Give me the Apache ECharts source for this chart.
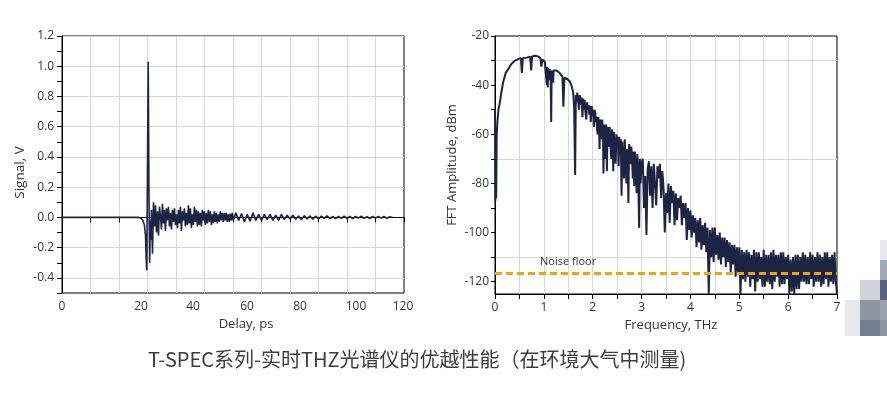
<!DOCTYPE html>
<html>
<head>
<meta charset="utf-8">
<title>T-SPEC THz</title>
<script src="https://cdn.jsdelivr.net/npm/echarts@6/dist/echarts.min.js"></script>
<style>
    html, body { margin: 0; padding: 0; background: #fff; }
    #main { width: 887px; height: 396px; }
</style>
</head>
<body>
<div id="main"></div>
<script>
// ---- time domain: Delay, ps / Signal, V ----
var pulseDelay  = [0, 27.0, 27.8, 28.4, 28.9, 29.3, 29.55, 29.75, 29.95, 30.25, 30.5, 30.75, 31.0, 31.2, 31.4, 31.75, 32.1];
var pulseSignal = [0, 0, -0.005, -0.02, -0.05, -0.12, -0.28, -0.35, 0.2, 1.03, 0.2, -0.30, -0.02, -0.15, 0.05, -0.24, 0.10];

// ringing after the pulse, sampled every 0.35 ps from 32.45 ps
var ringStart = 32.45, ringStep = 0.35;
var ringSignal = [
    -0.06, 0.08, -0.10, 0.04, -0.12, 0.07, 0.01, -0.08, 0.09, -0.04,
    0.05, -0.09, 0.06, -0.02, 0.07, -0.06, 0.03, -0.08, 0.05, -0.03,
    0.06, -0.05, 0.02, -0.07, 0.05, -0.04, 0.07, -0.09, 0.04, -0.02,
    0.06, -0.06, 0.03, -0.05, 0.08, -0.04, 0.06, -0.07, 0.02, -0.05,
    0.07, -0.03, 0.05, -0.06, 0.04, -0.05, 0.03, -0.06, 0.05, -0.02,
    0.04, -0.05, 0.03, -0.04, 0.05, -0.03, 0.04, -0.05, 0.02, -0.04,
    0.04, -0.03, 0.03, -0.04, 0.02, -0.03, 0.04, -0.02, 0.03, -0.03,
    0.03, -0.02, 0.03, -0.03, 0.02, -0.03, 0.025, -0.02, 0.03, -0.02
];
// tail, sampled every 1 ps from 61 ps
var tailStart = 61, tailStep = 1;
var tailSignal = [
    0.03, -0.02, 0.025, -0.03, 0.02, -0.025, 0.03, -0.02, 0.02, -0.02,
    0.02, -0.015, 0.02, -0.02, 0.015, -0.02, 0.02, -0.015, 0.015, -0.01,
    0.015, -0.012, 0.01, -0.015, 0.012, -0.01, 0.01, -0.012, 0.008, -0.01,
    0.008, -0.006, 0.01, -0.008, 0.006, -0.008, 0.007, -0.006, 0.008, -0.006,
    0.006, -0.008, 0.007, -0.005, 0.008, -0.006, 0.005, -0.007, 0.006, -0.005,
    0.006, -0.005, 0.007, -0.006, 0.004, 0.0
];

// ---- spectrum: Frequency, THz / FFT Amplitude, dBm ----
var specFreq = [
    0.000, 0.008, 0.016, 0.024, 0.035, 0.05, 0.07, 0.10, 0.13, 0.17, 0.22, 0.27, 0.33, 0.41, 0.48,
    0.53, 0.55, 0.57, 0.65, 0.72, 0.74, 0.76, 0.82, 0.88, 0.93, 0.95, 0.97, 1.02, 1.05, 1.06,
    1.07, 1.08, 1.09, 1.10, 1.12, 1.14, 1.15, 1.16, 1.19, 1.20, 1.26, 1.32, 1.38, 1.40, 1.42,
    1.48, 1.53, 1.57, 1.60, 1.62, 1.64, 1.655, 1.67, 1.685, 1.70, 1.72, 1.735, 1.75, 1.77, 1.79,
    1.805, 1.82, 1.835, 1.85, 1.87, 1.885, 1.90, 1.915, 1.93, 1.945, 1.96, 1.98,
    2.00, 2.015, 2.025, 2.035, 2.05, 2.065, 2.075, 2.09, 2.10, 2.115, 2.13, 2.14, 2.155, 2.17, 2.18,
    2.195, 2.21, 2.22, 2.235, 2.25, 2.26, 2.275, 2.29, 2.305, 2.32, 2.33, 2.345, 2.36, 2.38, 2.395,
    2.41, 2.42, 2.435, 2.45, 2.47, 2.485, 2.50, 2.515, 2.53, 2.545, 2.56, 2.575, 2.59, 2.605, 2.62,
    2.64, 2.655, 2.67, 2.69, 2.70, 2.715, 2.73, 2.745, 2.76, 2.78, 2.79, 2.805, 2.82, 2.835, 2.85,
    2.865, 2.88, 2.90, 2.915, 2.93, 2.95, 2.965, 2.98
];
var specAmp = [
    -50, -87, -58, -86, -60, -55, -50, -47, -43, -38.5, -35, -33.5, -31.5, -30, -29.3,
    -29, -35, -29, -28.8, -28.4, -34, -28.3, -28, -28.3, -29, -32.5, -29.6, -30.5, -31, -40,
    -32.5, -41, -33, -38, -33.5, -38, -55, -34, -39, -34, -34, -35, -36.5, -48.8, -37,
    -37.5, -38.5, -40.5, -43, -49, -76.6, -44, -47, -43, -46, -50, -44, -48, -45, -53,
    -45.5, -50, -46, -51, -54, -47, -50, -48, -52, -48.5, -55, -48.5,
    -48, -53, -57, -50, -51, -55, -52.8, -58, -60, -53, -58, -66, -54, -58, -62,
    -54, -60, -76, -56, -63, -70, -56, -75, -57, -62, -65, -57, -63, -70, -58,
    -64, -75, -59, -66, -72, -60, -65, -61, -73, -61, -68, -62, -85, -63, -70,
    -78, -62, -69, -80, -66, -70, -88, -64, -70, -72, -65, -70, -78, -67, -81,
    -67, -74, -84, -68, -75, -98, -70, -80
];
// noisy high-frequency part, every 0.025 THz from 3.0 THz
var noiseStart = 3.0, noiseStep = 0.025;
var noiseAmp = [
    -72, -70, -90, -77,    -101, -74, -71, -85,    -73, -90, -72, -80,    -89, -73, -78, -72,
    -86, -75, -82, -100,   -84, -92, -80, -96,     -81, -88, -83, -97,    -84, -95, -86, -90,
    -85, -97, -88, -94,    -88, -103, -90, -99,    -91, -102, -93, -100,  -94, -106, -95, -104,
    -94, -107, -97, -105,  -96, -108, -98, -125,   -99, -110, -98, -112,  -98, -109, -101, -111,
    -100, -113, -102, -110, -102, -114, -103, -112, -104, -116, -105, -113, -105, -118, -106, -117,
    -106, -125, -107, -119, -108, -120, -107, -118, -108, -122, -109, -119, -107, -124, -108, -120,
    -108, -119, -110, -122, -107, -122, -109, -120, -109, -121, -108, -123, -107, -120, -109, -118,
    -109, -122, -108, -121, -108, -121, -110, -119, -109, -125, -111, -124, -110, -125, -109, -123,
    -109, -123, -110, -120, -108, -120, -109, -121, -110, -121, -108, -119, -109, -122, -110, -120,
    -108, -120, -109, -122, -110, -121, -108, -119, -108, -122, -110, -120, -109, -121, -108, -120,
    -125
];
var noiseFloor = -116.6;

var delayTicks = [0, 10, 20, 30, 40, 50, 60, 70, 80, 90, 100, 110, 120];
var freqTicks = [0, 0.5, 1, 1.5, 2, 2.5, 3, 3.5, 4, 4.5, 5, 5.5, 6, 6.5, 7];
var dbmTicks = [-120, -110, -100, -90, -80, -70, -60, -50, -40, -30, -20];

var signalData = [];
for (var i = 0; i < pulseDelay.length; i++) signalData.push([pulseDelay[i], pulseSignal[i]]);
for (var i = 0; i < ringSignal.length; i++) signalData.push([+(ringStart + i * ringStep).toFixed(2), ringSignal[i]]);
for (var i = 0; i < tailSignal.length; i++) signalData.push([tailStart + i * tailStep, tailSignal[i]]);

var spectrumData = [];
for (var i = 0; i < specFreq.length; i++) spectrumData.push([specFreq[i], specAmp[i]]);
for (var i = 0; i < noiseAmp.length; i++) spectrumData.push([+(noiseStart + i * noiseStep).toFixed(3), noiseAmp[i]]);

var FONT = 'Open Sans';
var LINE = '#1c2444';
var GRID = '#d6d6d6';
var TXT = '#333';

// the delay labels of the original sit a little right of their grid lines
var delayLabelShift = {0: 0, 20: 22, 40: 17, 60: 14, 80: 10, 100: 9, 120: -1};
var delayRich = {};
for (var k in delayLabelShift) {
    var s = delayLabelShift[k];
    delayRich['d' + k] = {
        fontFamily: FONT, fontSize: 12, color: TXT,
        padding: s >= 0 ? [0, 0, 0, 2 * s] : [0, -2 * s, 0, 0]
    };
}

var myChart = echarts.init(document.getElementById('main'));

var option = {
    animation: false,
    grid: [
        {left: 62, top: 36, width: 342, height: 257, show: true, borderColor: '#000', borderWidth: 1, backgroundColor: 'transparent'},
        {left: 495, top: 36, width: 342, height: 258, show: true, borderColor: '#000', borderWidth: 1, backgroundColor: 'transparent'}
    ],
    xAxis: [
        {
            gridIndex: 0, type: 'value', min: 0, max: 120, interval: 20,
            axisLine: {lineStyle: {color: '#000', width: 1}},
            axisTick: {show: true, length: 5, lineStyle: {color: '#000'}, customValues: delayTicks},
            axisLabel: {
                margin: 8, fontFamily: FONT, fontSize: 12, color: TXT,
                formatter: function (v) { return '{d' + v + '|' + v + '}'; },
                rich: delayRich
            },
            splitLine: {show: true, showMinLine: false, showMaxLine: false, lineStyle: {color: GRID}},
            name: 'Delay, ps', nameLocation: 'middle', nameGap: 25,
            nameTextStyle: {fontFamily: FONT, fontSize: 13, color: TXT, padding: [0, 0, 0, 26]}
        },
        {
            gridIndex: 1, type: 'value', min: 0, max: 7, interval: 1,
            axisLine: {lineStyle: {color: '#000', width: 1}},
            axisTick: {show: true, length: 5, lineStyle: {color: '#000'}, customValues: freqTicks},
            axisLabel: {margin: 8, fontFamily: FONT, fontSize: 12, color: TXT},
            splitLine: {show: true, showMinLine: false, showMaxLine: false, lineStyle: {color: GRID}},
            name: 'Frequency, THz', nameLocation: 'middle', nameGap: 25,
            nameTextStyle: {fontFamily: FONT, fontSize: 13, color: TXT, padding: [0, 0, 0, 10]}
        }
    ],
    yAxis: [
        {
            gridIndex: 0, type: 'value', min: -0.5, max: 1.2, interval: 0.1,
            axisLine: {show: true, lineStyle: {color: '#000', width: 1}},
            axisTick: {show: true, length: 5, lineStyle: {color: '#000'}},
            axisLabel: {
                margin: 8, fontFamily: FONT, fontSize: 12, color: TXT,
                formatter: function (v) {
                    var k = Math.round(v * 10);
                    return k % 2 === 0 ? (k / 10).toFixed(1) : '';
                }
            },
            splitLine: {show: true, lineStyle: {color: ['rgba(0,0,0,0)', GRID]}},
            name: 'Signal, V', nameLocation: 'middle', nameGap: 35,
            nameTextStyle: {fontFamily: FONT, fontSize: 13.5, color: TXT, padding: [0, 16, 0, 0]}
        },
        {
            gridIndex: 1, type: 'value', min: -125, max: -20, interval: 5,
            axisLine: {show: true, lineStyle: {color: '#000', width: 1}},
            axisTick: {show: true, length: 4, lineStyle: {color: '#000'}, customValues: dbmTicks},
            axisLabel: {
                margin: 6, fontFamily: FONT, fontSize: 12, color: TXT,
                formatter: function (v) { return v % 20 === 0 ? String(v) : ''; }
            },
            splitLine: {show: true, lineStyle: {color: ['rgba(0,0,0,0)', GRID, 'rgba(0,0,0,0)', 'rgba(0,0,0,0)']}},
            name: 'FFT Amplitude, dBm', nameLocation: 'middle', nameGap: 36,
            nameTextStyle: {fontFamily: FONT, fontSize: 13, color: TXT}
        }
    ],
    series: [
        {
            name: 'Signal', type: 'line', xAxisIndex: 0, yAxisIndex: 0,
            data: signalData, showSymbol: false,
            lineStyle: {color: LINE, width: 1.6}, itemStyle: {color: LINE}
        },
        {
            name: 'Spectrum', type: 'line', xAxisIndex: 1, yAxisIndex: 1,
            data: spectrumData, showSymbol: false,
            lineStyle: {color: LINE, width: 2}, itemStyle: {color: LINE},
            markLine: {
                silent: true, symbol: ['none', 'none'], animation: false,
                lineStyle: {color: '#f2a20f', type: [7, 4], width: 3},
                label: {
                    show: true, position: 'insideStartTop', distance: [45, 6],
                    formatter: 'Noise floor', fontFamily: FONT, fontSize: 11, color: TXT
                },
                data: [{yAxis: noiseFloor}]
            }
        }
    ],
    graphic: [
        {
            type: 'text', left: 148, top: 349,
            style: {
                text: 'T-SPEC系列-实时THZ光谱仪的优越性能（在环境大气中测量)',
                font: '20px "Noto Sans CJK SC"', fill: '#3c3c3c'
            }
        },
        // blurred mosaic patch at the right edge of the original picture
        {type: 'rect', shape: {x: 880, y: 240, width: 7, height: 20}, style: {fill: '#e6e8ec'}},
        {type: 'rect', shape: {x: 880, y: 260, width: 7, height: 20}, style: {fill: '#a0a8b5'}},
        {type: 'rect', shape: {x: 860, y: 280, width: 20, height: 20}, style: {fill: '#cfd3da'}},
        {type: 'rect', shape: {x: 880, y: 280, width: 7, height: 20}, style: {fill: '#56617a'}},
        {type: 'rect', shape: {x: 845, y: 300, width: 15, height: 36}, style: {fill: '#e6e8eb'}},
        {type: 'rect', shape: {x: 860, y: 300, width: 20, height: 20}, style: {fill: '#8d96a3'}},
        {type: 'rect', shape: {x: 880, y: 300, width: 7, height: 20}, style: {fill: '#9aa2ae'}},
        {type: 'rect', shape: {x: 860, y: 320, width: 20, height: 16}, style: {fill: '#737e90'}},
        {type: 'rect', shape: {x: 880, y: 320, width: 7, height: 16}, style: {fill: '#8d96a5'}}
    ]
};

myChart.setOption(option);
</script>
</body>
</html>
